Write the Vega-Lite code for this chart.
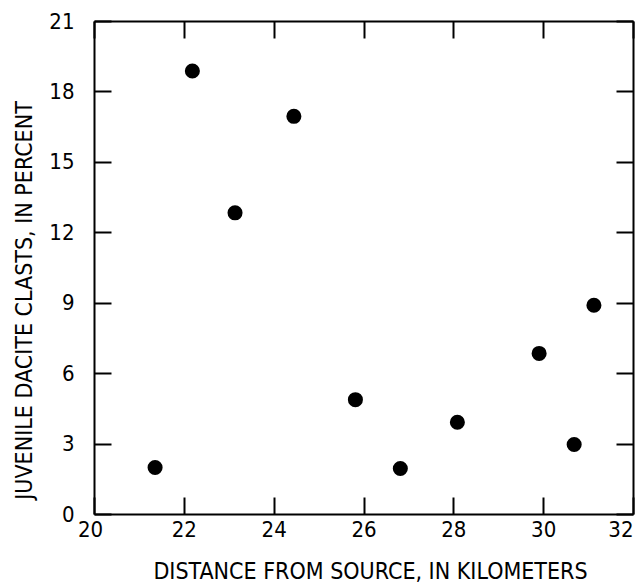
{
  "$schema": "https://vega.github.io/schema/vega-lite/v6.json",
  "width": 539,
  "height": 493,
  "autosize": {"type": "none"},
  "padding": {"left": 94, "top": 21, "right": 6, "bottom": 69},
  "background": "white",
  "config": {
    "view": {"stroke": null},
    "axis": {
      "grid": false,
      "domainColor": "black",
      "domainWidth": 2,
      "tickColor": "black",
      "tickWidth": 2,
      "tickSize": -17,
      "labelFont": "Liberation Sans Narrow, DejaVu Sans Condensed, Roboto Condensed, sans-serif",
      "labelFontSize": 22,
      "labelColor": "black",
      "titleFont": "Liberation Sans Narrow, DejaVu Sans Condensed, Roboto Condensed, sans-serif",
      "titleFontSize": 23,
      "titleFontWeight": "normal",
      "titleColor": "black"
    }
  },
  "data": {
    "values": [
      {"distance": 21.36, "percent": 1.98},
      {"distance": 22.19, "percent": 18.87},
      {"distance": 23.14, "percent": 12.83},
      {"distance": 24.45, "percent": 16.94},
      {"distance": 25.82, "percent": 4.87},
      {"distance": 26.82, "percent": 1.94},
      {"distance": 28.09, "percent": 3.91},
      {"distance": 29.91, "percent": 6.84},
      {"distance": 30.69, "percent": 2.96},
      {"distance": 31.13, "percent": 8.89}
    ]
  },
  "layer": [
    {
      "mark": {"type": "circle", "size": 227, "color": "black", "opacity": 1},
      "encoding": {
        "x": {
          "field": "distance", "type": "quantitative",
          "scale": {"domain": [20, 32], "nice": false, "zero": false},
          "axis": {
            "orient": "bottom",
            "values": [20, 22, 24, 26, 28, 30, 32],
            "labelFlush": false,
            "labelAlign": {"condition": {"test": "datum.value == 32", "value": "right"}, "value": "center"},
            "labelOffset": {"condition": {"test": "datum.value == 20", "value": -4}, "value": 0},
            "labelPadding": 22,
            "title": "DISTANCE FROM SOURCE, IN KILOMETERS",
            "titleX": 276,
            "titleY": 46
          }
        },
        "y": {
          "field": "percent", "type": "quantitative",
          "scale": {"domain": [0, 21], "nice": false, "zero": true},
          "axis": {
            "orient": "left",
            "values": [0, 3, 6, 9, 12, 15, 18, 21],
            "labelFlush": false,
            "labelPadding": 37,
            "title": "JUVENILE DACITE CLASTS, IN PERCENT",
            "titleX": -58,
            "titleY": 279
          }
        }
      }
    },
    {
      "mark": {"type": "circle", "size": 227, "opacity": 0},
      "encoding": {
        "x": {
          "field": "distance", "type": "quantitative",
          "scale": {"domain": [20, 32], "nice": false, "zero": false},
          "axis": {"orient": "top", "values": [20, 22, 24, 26, 28, 30, 32], "labels": false, "title": null}
        },
        "y": {
          "field": "percent", "type": "quantitative",
          "scale": {"domain": [0, 21], "nice": false, "zero": true},
          "axis": {"orient": "right", "values": [0, 3, 6, 9, 12, 15, 18, 21], "labels": false, "title": null}
        }
      }
    }
  ],
  "resolve": {"scale": {"x": "independent", "y": "independent"}}
}
